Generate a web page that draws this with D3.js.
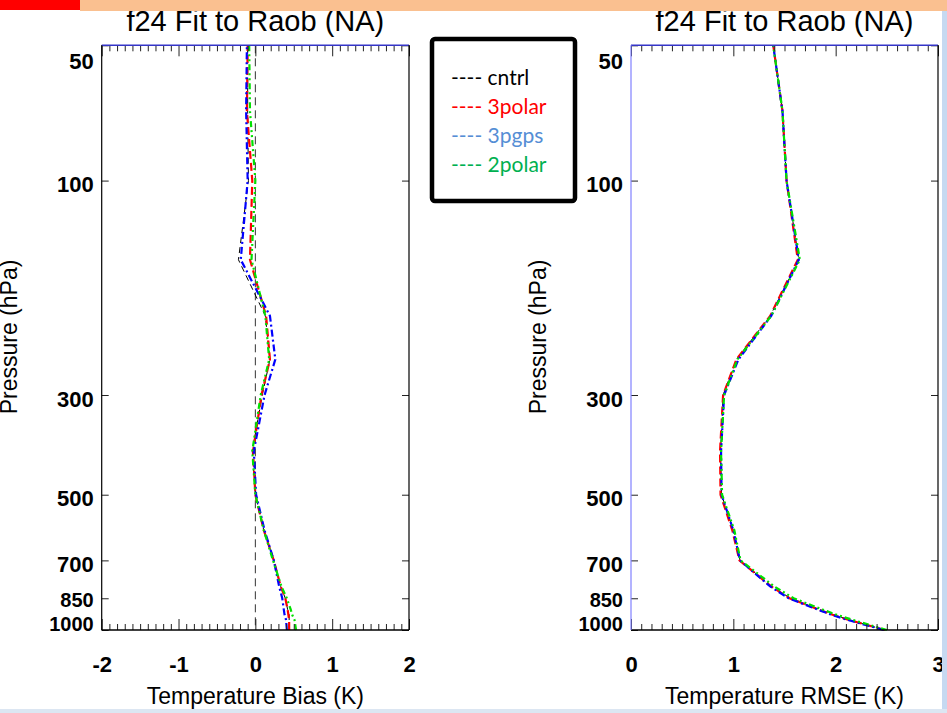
<!DOCTYPE html>
<html>
<head>
<meta charset="utf-8">
<script src="https://cdn.jsdelivr.net/npm/d3@7"></script>
<style>
  body { margin: 0; background: #fff; }
  svg text { font-family: "Liberation Sans", Arial, Helvetica, sans-serif; }
</style>
</head>
<body>
<div id="chart"></div>
<script>

//////////////////////////////////////////////////////////////////////////////
// Data

var levels = [1000, 950, 925, 900, 850, 800, 700, 600, 500, 400, 300, 250, 200, 150, 100, 70, 50];
var pressureTicks = [50, 100, 300, 500, 700, 850, 1000];

var biasCntrl  = [0.44, 0.44, 0.44, 0.42, 0.39, 0.33, 0.24, 0.11, 0.00, -0.04, 0.09, 0.19, 0.13, -0.22, -0.09, -0.10, -0.10];
var bias3polar = [0.44, 0.44, 0.43, 0.42, 0.39, 0.33, 0.24, 0.11, 0.00, -0.03, 0.08, 0.19, 0.14, -0.07, -0.04, -0.11, -0.10];
var bias3pgps  = [0.41, 0.40, 0.38, 0.37, 0.35, 0.31, 0.24, 0.12, 0.01, -0.02, 0.12, 0.26, 0.19, -0.19, -0.10, -0.12, -0.11];
var bias2polar = [0.53, 0.51, 0.48, 0.46, 0.41, 0.34, 0.23, 0.11, 0.00, -0.04, 0.07, 0.18, 0.13, -0.05, 0.00, -0.07, -0.08];

var rmseCntrl  = [2.48, 2.14, 1.98, 1.84, 1.56, 1.37, 1.065, 1.00, 0.885, 0.875, 0.90, 1.03, 1.36, 1.64, 1.52, 1.48, 1.39];
var rmse3polar = [2.48, 2.13, 1.97, 1.83, 1.55, 1.37, 1.06, 0.99, 0.875, 0.87, 0.90, 1.03, 1.36, 1.63, 1.52, 1.48, 1.39];
var rmse3pgps  = [2.47, 2.12, 1.96, 1.82, 1.54, 1.36, 1.065, 1.00, 0.885, 0.88, 0.91, 1.05, 1.37, 1.64, 1.52, 1.48, 1.39];
var rmse2polar = [2.50, 2.17, 2.01, 1.87, 1.59, 1.40, 1.07, 1.01, 0.89, 0.88, 0.91, 1.04, 1.37, 1.65, 1.52, 1.48, 1.39];

var seriesNames  = ["cntrl", "3polar", "3pgps", "2polar"];
var legendColors = ["#000000", "#ff0000", "#558ed5", "#00b050"];
var lineColors   = ["#000000", "#ff0000", "#0000ff", "#00e000"];
var lineDashes   = ["6,4", "8,4", "7,3,2,3", "6,3,2,3,2,3"];
var lineWidths   = [1, 2.2, 2.2, 2.2];

var titleText = "f24 Fit to Raob (NA)";

//////////////////////////////////////////////////////////////////////////////
// Global variables, preliminaries

var width = 947, height = 713;
var plotTop = 45.3, plotBottom = 630;

var svg = d3.select("#chart").append("svg")
    .attr("width", width)
    .attr("height", height);

var yScale = d3.scaleLog().domain([50, 1000]).range([plotTop, plotBottom]);

function range10(lo, hi) {
    // tick values every 0.1 between lo and hi
    var out = [];
    for (var i = Math.round(lo * 10); i <= Math.round(hi * 10); ++i) out.push(i / 10);
    return out;
}

// IDL nudges the end labels inward, and 850/1000 sit close together
function labelShift(d) {
    if (d === 50) return "1.05em";
    if (d === 850) return "0.4em";
    if (d === 1000) return "0em";
    return "0.5em";
}

function createPanel(opts)
{
    var xScale = d3.scaleLinear().domain(opts.domain).range([opts.x0, opts.x1]);
    var g = svg.append("g");

    var majors = d3.range(opts.domain[0], opts.domain[1] + 1);
    var minors = range10(opts.domain[0], opts.domain[1]).filter(function(v) {
        return Math.abs(v - Math.round(v)) > 1e-6;
    });

    // reference line
    if (opts.zeroLine) {
        g.append("line")
            .attr("x1", xScale(0)).attr("x2", xScale(0))
            .attr("y1", plotTop).attr("y2", plotBottom)
            .attr("stroke", "#333").attr("stroke-width", 1)
            .attr("stroke-dasharray", "8,5");
    }

    // profiles
    var line = d3.line()
        .x(function(d) { return xScale(d[1]); })
        .y(function(d) { return yScale(d[0]); });

    opts.series.forEach(function(vals, i) {
        g.append("path")
            .attr("d", line(d3.zip(levels, vals)))
            .attr("fill", "none")
            .attr("stroke", lineColors[i])
            .attr("stroke-width", lineWidths[i])
            .attr("stroke-dasharray", lineDashes[i]);
    });

    // x axes, ticks pointing inward
    var bottom = g.append("g").attr("transform", "translate(0," + plotBottom + ")");
    bottom.call(d3.axisBottom(xScale).tickValues(minors).tickSize(-6).tickFormat(""));
    bottom.append("g").call(d3.axisBottom(xScale).tickValues(majors).tickSize(-11)
        .tickPadding(26).tickFormat(String));
    var top = g.append("g").attr("transform", "translate(0," + plotTop + ")");
    top.call(d3.axisTop(xScale).tickValues(minors).tickSize(-6).tickFormat(""));
    top.append("g").call(d3.axisTop(xScale).tickValues(majors).tickSize(-11).tickFormat(""));

    // y axes
    var left = g.append("g").attr("transform", "translate(" + opts.x0 + ",0)");
    left.call(d3.axisLeft(yScale).tickValues(pressureTicks).tickSize(-7)
        .tickPadding(8).tickFormat(String));
    var right = g.append("g").attr("transform", "translate(" + opts.x1 + ",0)");
    right.call(d3.axisRight(yScale).tickValues(pressureTicks).tickSize(-7).tickFormat(""));

    g.selectAll(".domain").remove();
    g.selectAll(".tick line").attr("stroke", "#222");
    g.selectAll(".tick text")
        .attr("fill", "#000")
        .style("font-size", "22px")
        .style("font-weight", "bold");
    left.selectAll(".tick text").attr("dy", labelShift);
    left.selectAll(".tick text")
        .filter(function(d) { return d >= 850; })
        .style("font-size", "20px");

    // frame
    g.append("line").attr("x1", opts.x0).attr("x2", opts.x1)
        .attr("y1", plotTop).attr("y2", plotTop)
        .attr("stroke", "#3535c8").attr("stroke-width", 1.5);
    g.append("line").attr("x1", opts.x0).attr("x2", opts.x1)
        .attr("y1", plotBottom).attr("y2", plotBottom)
        .attr("stroke", "#000").attr("stroke-width", 1.5);
    g.append("line").attr("x1", opts.x0).attr("x2", opts.x0)
        .attr("y1", plotTop).attr("y2", plotBottom)
        .attr("stroke", opts.leftColor).attr("stroke-width", 1.2);
    g.append("line").attr("x1", opts.x1).attr("x2", opts.x1)
        .attr("y1", plotTop).attr("y2", plotBottom)
        .attr("stroke", "#000").attr("stroke-width", 1.2);

    // texts
    var cx = (opts.x0 + opts.x1) / 2;
    g.append("text")
        .attr("x", cx).attr("y", 31)
        .attr("text-anchor", "middle")
        .style("font-size", "29px")
        .text(titleText);
    g.append("text")
        .attr("x", cx).attr("y", 704)
        .attr("text-anchor", "middle")
        .style("font-size", "23px")
        .text(opts.xLabel);
    g.append("text")
        .attr("transform", "translate(" + opts.yLabelX + ",337) rotate(-90)")
        .attr("text-anchor", "middle")
        .style("font-size", "23px")
        .text("Pressure (hPa)");
}

createPanel({
    x0: 101.7, x1: 409, domain: [-2, 2],
    series: [biasCntrl, bias3polar, bias3pgps, bias2polar],
    zeroLine: true, leftColor: "#000",
    xLabel: "Temperature Bias (K)", yLabelX: 17
});

createPanel({
    x0: 631, x1: 938, domain: [0, 3],
    series: [rmseCntrl, rmse3polar, rmse3pgps, rmse2polar],
    zeroLine: false, leftColor: "#8080ff",
    xLabel: "Temperature RMSE (K)", yLabelX: 546
});

//////////////////////////////////////////////////////////////////////////////
// legend box

var legend = svg.append("g");
legend.append("rect")
    .attr("x", 432).attr("y", 39)
    .attr("width", 143).attr("height", 162)
    .attr("rx", 3)
    .attr("fill", "#fff")
    .attr("stroke", "#000")
    .attr("stroke-width", 4.5);

legend.selectAll("text.entry")
    .data(seriesNames)
    .enter()
    .append("text")
    .attr("class", "entry")
    .attr("x", 451)
    .attr("y", function(d, i) { return 85 + i * 29; })
    .attr("fill", function(d, i) { return legendColors[i]; })
    .style("font-family", "Lato, 'Open Sans', sans-serif")
    .style("font-size", "21px")
    .text(function(d) { return "---- " + d; });

//////////////////////////////////////////////////////////////////////////////
// slide decorations around the figure

svg.append("rect").attr("x", 80).attr("y", 0).attr("width", width - 80).attr("height", 11)
    .attr("fill", "#fac090");
svg.append("rect").attr("x", 0).attr("y", 0).attr("width", 80).attr("height", 10)
    .attr("fill", "#ff0000");
svg.append("rect").attr("x", 942).attr("y", 11).attr("width", 5).attr("height", height - 11)
    .attr("fill", "#c6d9f1");
svg.append("rect").attr("x", 0).attr("y", 709).attr("width", width).attr("height", 4)
    .attr("fill", "#dce6f2");

</script>
</body>
</html>
